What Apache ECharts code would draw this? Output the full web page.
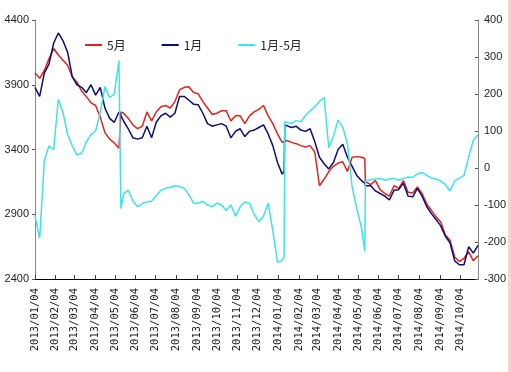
<!DOCTYPE html>
<html><head><meta charset="utf-8">
<script src="https://cdn.jsdelivr.net/npm/echarts@6/dist/echarts.min.js"></script>
<style>html,body{margin:0;padding:0;background:#fff}#c{width:511px;height:372px}</style>
</head><body><div id="c"></div>
<script>
const dates = [
 '2013-01-04','2013-01-11','2013-01-18','2013-01-25',
 '2013-02-01','2013-02-08','2013-02-15','2013-02-22',
 '2013-03-01','2013-03-08','2013-03-15','2013-03-22','2013-03-29',
 '2013-04-05','2013-04-12','2013-04-19','2013-04-26',
 '2013-05-03','2013-05-10','2013-05-13','2013-05-17','2013-05-24','2013-05-31',
 '2013-06-07','2013-06-14','2013-06-21','2013-06-28',
 '2013-07-05','2013-07-12','2013-07-19','2013-07-26',
 '2013-08-02','2013-08-09','2013-08-16','2013-08-23','2013-08-30',
 '2013-09-06','2013-09-13','2013-09-20','2013-09-27',
 '2013-10-04','2013-10-11','2013-10-18','2013-10-25',
 '2013-11-01','2013-11-08','2013-11-15','2013-11-22','2013-11-29',
 '2013-12-06','2013-12-13','2013-12-20','2013-12-27',
 '2014-01-03','2014-01-10','2014-01-13','2014-01-14','2014-01-17','2014-01-24','2014-01-31',
 '2014-02-07','2014-02-14','2014-02-21','2014-02-28',
 '2014-03-07','2014-03-14','2014-03-21','2014-03-28',
 '2014-04-04','2014-04-11','2014-04-18','2014-04-25',
 '2014-05-02','2014-05-09','2014-05-14','2014-05-15','2014-05-16','2014-05-23','2014-05-30',
 '2014-06-06','2014-06-13','2014-06-20','2014-06-27',
 '2014-07-04','2014-07-11','2014-07-18','2014-07-25',
 '2014-08-01','2014-08-08','2014-08-15','2014-08-22','2014-08-29',
 '2014-09-05','2014-09-12','2014-09-19','2014-09-26',
 '2014-10-03','2014-10-10','2014-10-17','2014-10-24','2014-10-31'
];
const may = [
 3990,3950,4010,4100,
 4180,4130,4090,4050,
 3960,3920,3850,3810,3760,
 3740,3650,3530,3480,
 3450,3410,3690,3680,3640,3590,
 3560,3580,3690,3620,
 3690,3730,3740,3720,
 3770,3860,3880,3885,3840,
 3830,3770,3720,3670,
 3680,3700,3700,3620,
 3660,3660,3600,3660,3690,
 3710,3740,3660,3600,
 3520,3455,3465,3465,3470,3455,3445,
 3430,3420,3430,3380,
 3120,3170,3230,3270,
 3295,3305,3230,3340,
 3345,3340,3330,3150,3160,3130,3160,
 3090,3060,3040,3120,
 3100,3160,3070,3065,
 3110,3060,2980,2930,2880,
 2840,2740,2700,2570,
 2535,2560,2610,2540,2580
];
const jan = [
 3880,3810,3990,4060,
 4220,4300,4240,4150,
 3960,3900,3880,3840,3900,
 3820,3880,3720,3640,
 3610,3690,3660,3620,3560,3490,
 3480,3490,3580,3490,
 3610,3660,3680,3650,
 3680,3810,3810,3780,3750,
 3745,3680,3600,3580,
 3590,3600,3580,3490,
 3540,3560,3500,3540,3550,
 3570,3590,3520,3430,
 3300,3210,3230,3590,3580,3570,3580,
 3550,3540,3560,3460,
 3340,3290,3250,3300,
 3400,3440,3340,3270,
 3200,3160,3140,3120,3110,3120,3080,
 3060,3040,3010,3085,
 3090,3140,3040,3035,
 3100,3040,2960,2905,2860,
 2810,2730,2680,2540,
 2510,2510,2650,2600,2660
];
const spread = [
 -130,-190,20,60,
 50,185,150,90,
 60,35,40,70,90,
 100,150,220,190,
 200,290,-110,-70,-60,-90,
 -105,-96,-92,-90,
 -75,-60,-55,-52,
 -48,-50,-55,-72,-95,
 -95,-90,-100,-105,
 -95,-100,-115,-100,
 -130,-105,-92,-95,-125,
 -145,-130,-95,-170,
 -255,-250,-240,125,120,120,128,
 125,142,155,165,
 180,190,55,85,
 130,110,65,-50,
 -110,-160,-225,-35,-35,-32,-30,
 -28,-33,-30,-28,
 -33,-28,-25,-25,
 -16,-12,-20,-27,-30,
 -35,-45,-62,-35,
 -28,-20,30,75,90
];
const seriesNames = ['5月','1月','1月-5月'];
const xTickLabels = ['2013/01/04','2013/02/04','2013/03/04','2013/04/04','2013/05/04','2013/06/04',
 '2013/07/04','2013/08/04','2013/09/04','2013/10/04','2013/11/04','2013/12/04','2014/01/04',
 '2014/02/04','2014/03/04','2014/04/04','2014/05/04','2014/06/04','2014/07/04','2014/08/04',
 '2014/09/04','2014/10/04'];
const xStart = '2013-01-04', xEnd = '2014-10-31';

function ts(s){const p=s.split(/[-\/]/).map(Number);return new Date(p[0],p[1]-1,p[2]).getTime();}
function fmt(v){const d=new Date(v);return d.getFullYear()+'/'+String(d.getMonth()+1).padStart(2,'0')+'/'+String(d.getDate()).padStart(2,'0');}
const tickValues = xTickLabels.map(ts);
const pairs = arr => dates.map((d,i)=>[ts(d),arr[i]]);

const chart = echarts.init(document.getElementById('c'));
const numFont = "'Liberation Sans Narrow','Liberation Sans',sans-serif";
chart.setOption({
  animation:false,
  backgroundColor:'#fff',
  grid:{left:35,right:33,top:20,bottom:93},
  legend:{
    left:80, top:34, itemWidth:17, itemHeight:2, icon:'rect', itemGap:36,
    textStyle:{fontFamily:"'Noto Sans CJK SC',sans-serif",fontSize:12,color:'#222'},
    data:seriesNames
  },
  xAxis:{
    type:'value', min:ts(xStart), max:ts(xEnd), scale:true,
    axisLine:{onZero:false,lineStyle:{color:'#000',width:1}},
    axisTick:{show:true,inside:true,length:4,customValues:tickValues,lineStyle:{color:'#444'}},
    axisLabel:{customValues:tickValues,formatter:fmt,rotate:90,margin:9,hideOverlap:false,
      showMinLabel:true,showMaxLabel:true,
      fontFamily:"'DejaVu Sans Mono',monospace",fontSize:10.5,color:'#222'},
    splitLine:{show:false}
  },
  yAxis:[
    {type:'value',position:'left',min:2400,max:4400,interval:500,
     axisLine:{show:true,onZero:false,lineStyle:{color:'#888'}},
     axisTick:{show:true,inside:false,length:3,lineStyle:{color:'#555'}},
     axisLabel:{margin:6,formatter:v=>String(v),fontFamily:numFont,fontSize:11,color:'#222'},
     splitLine:{show:false}},
    {type:'value',position:'right',min:-300,max:400,interval:100,
     axisLine:{show:true,onZero:false,lineStyle:{color:'#888'}},
     axisTick:{show:true,inside:true,length:3,lineStyle:{color:'#555'}},
     axisLabel:{margin:6,formatter:v=>String(v),fontFamily:numFont,fontSize:11,color:'#222'},
     splitLine:{show:false}}
  ],
  series:[
    {name:seriesNames[0],type:'line',yAxisIndex:0,data:pairs(may),showSymbol:false,symbol:'none',
     lineStyle:{color:'#e3221c',width:1.5},itemStyle:{color:'#e3221c'}},
    {name:seriesNames[1],type:'line',yAxisIndex:0,data:pairs(jan),showSymbol:false,symbol:'none',
     lineStyle:{color:'#0d0d72',width:1.5},itemStyle:{color:'#0d0d72'}},
    {name:seriesNames[2],type:'line',yAxisIndex:1,data:pairs(spread),showSymbol:false,symbol:'none',
     lineStyle:{color:'#3ce4ea',width:1.5},itemStyle:{color:'#3ce4ea'}}
  ],
  graphic:[{type:'rect',right:0,top:0,shape:{width:3,height:372},style:{fill:'#f6d2d3'},silent:true}]
});
</script></body></html>
